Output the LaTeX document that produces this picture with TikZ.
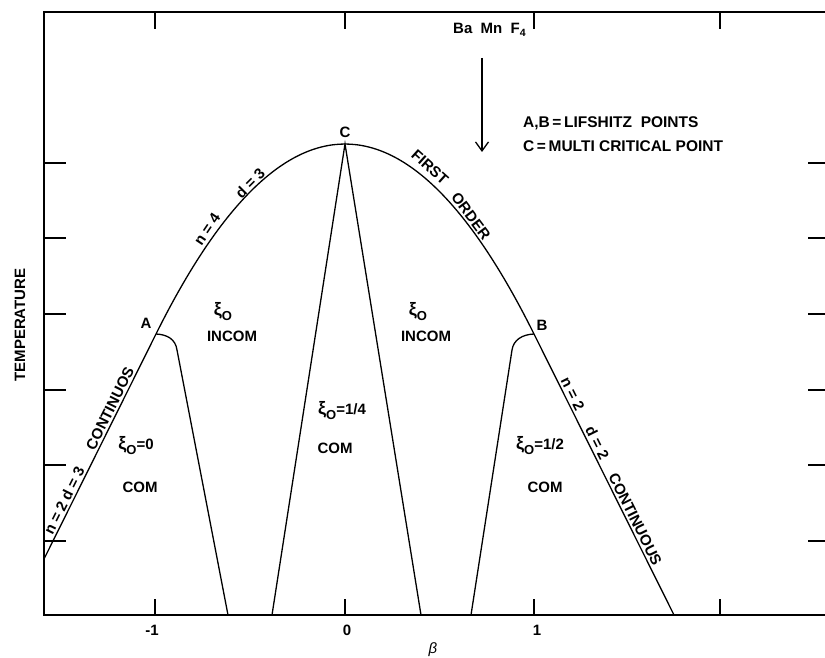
\documentclass[tikz,border=0pt]{standalone}
\usepackage{fontspec}
\setmainfont{Liberation Sans}
\usetikzlibrary{arrows.meta}
\newcommand{\xisub}{{\fontsize{18}{18}\selectfont ξ}\raisebox{-5pt}{\fontsize{13}{13}\selectfont O}}
\begin{document}
\begin{tikzpicture}[x=1pt,y=-1pt,
  every node/.style={font=\fontsize{15}{18}\selectfont\bfseries, inner sep=0pt},
  axisline/.style={line width=1.3pt},
  curve/.style={line width=1.3pt},
  legend/.style={font=\fontsize{15.5}{19}\selectfont\bfseries, anchor=base west},
  onl/.style={sloped, above=2.5pt}]
\useasboundingbox[fill=white] (0,0) rectangle (825,658);
% frame and ticks
\draw[axisline] (825,12) -- (44,12) -- (44,615) -- (825,615);
\foreach \x in {155,345,534,720} {
  \draw[axisline] (\x,12) -- (\x,29);
  \draw[axisline] (\x,615) -- (\x,599);
}
\foreach \y in {163,238,314,390,465,541} {
  \draw[axisline] (44,\y) -- (66,\y);
  \draw[axisline] (808,\y) -- (825,\y);
}
% key points
\coordinate (A) at (156,334);
\coordinate (B) at (534,334);
\coordinate (C) at (345,144);
\coordinate (L0) at (44,559);
\coordinate (R0) at (674,615);
% phase boundary
\draw[curve] (L0) -- (A) .. controls (282,80.7) and (408,80.7) .. (B) -- (R0);
% internal boundaries
\coordinate (a1) at (177,350);
\coordinate (a2) at (228,615);
\draw[curve] (A) .. controls (167,334.5) and (175.5,339) .. (a1) -- (a2);
\coordinate (c1) at (272,615);
\coordinate (c2) at (421,615);
\draw[curve] (c1) -- (C) -- (c2);
\coordinate (b1) at (471,615);
\coordinate (b2) at (512,350);
\draw[curve] (b1) -- (b2) .. controls (513.5,340) and (522,334.5) .. (B);
% arrow
\coordinate (arrS) at (482,58);
\coordinate (arrE) at (482,152);
\draw[line width=1.3pt, -{Straight Barb[length=9pt,width=13pt]}] (arrS) -- (arrE);
% labels on lines
\path (L0) -- (A)
  node[onl, pos=0.167] (ln2) {n = 2}
  node[onl, pos=0.32] (ld3) {d = 3}
  node[onl, pos=0.653] (lcont) {CONTINUOS};
\path (B) -- (R0)
  node[onl, pos=0.226] (rn2) {n = 2}
  node[onl, pos=0.40] (rd2) {d = 2}
  node[onl, pos=0.672] (rcont) {CONTINUOUS};
\node[rotate=56] (n4) at (207,229) {n = 4};
\node[rotate=45] (d3) at (250,183) {d = 3};
\node[rotate=-42] (first) at (430,167) {FIRST};
\node[rotate=-53] (order) at (471,216) {ORDER};
% point labels
\node (Alab) at (146,323) {A};
\node (Blab) at (542,325) {B};
\node[anchor=base] (Clab) at (345,138) {C};
% title & legend
\node[anchor=base west] (bamn) at (453,34) {Ba\ \ Mn\ \ F\textsubscript{4}};
\node[legend] (leg1) at (523,128) {A,B\,=\,LIFSHITZ\ \ POINTS};
\node[legend] (leg2) at (523,152) {C\,=\,MULTI CRITICAL POINT};
% regions
\node (xiL) at (223,312) {\xisub};
\node (incL) at (232,336) {INCOM};
\node (xiR) at (418,312) {\xisub};
\node (incR) at (426,336) {INCOM};
\node (xiC) at (342,411) {\xisub=1/4};
\node (comC) at (335,448) {COM};
\node (xi0) at (136,446) {\xisub=0};
\node (com0) at (140,487) {COM};
\node (xiH) at (540,446) {\xisub=1/2};
\node (comH) at (545,487) {COM};
% axes labels
\node (xm1) at (152,630) {-1};
\node (x0) at (347,630) {0};
\node (x1) at (537,630) {1};
\node (beta) at (433,650) {\normalfont\itshape β};
\node[rotate=90] (temp) at (20,325) {TEMPERATURE};
\end{tikzpicture}
\end{document}
